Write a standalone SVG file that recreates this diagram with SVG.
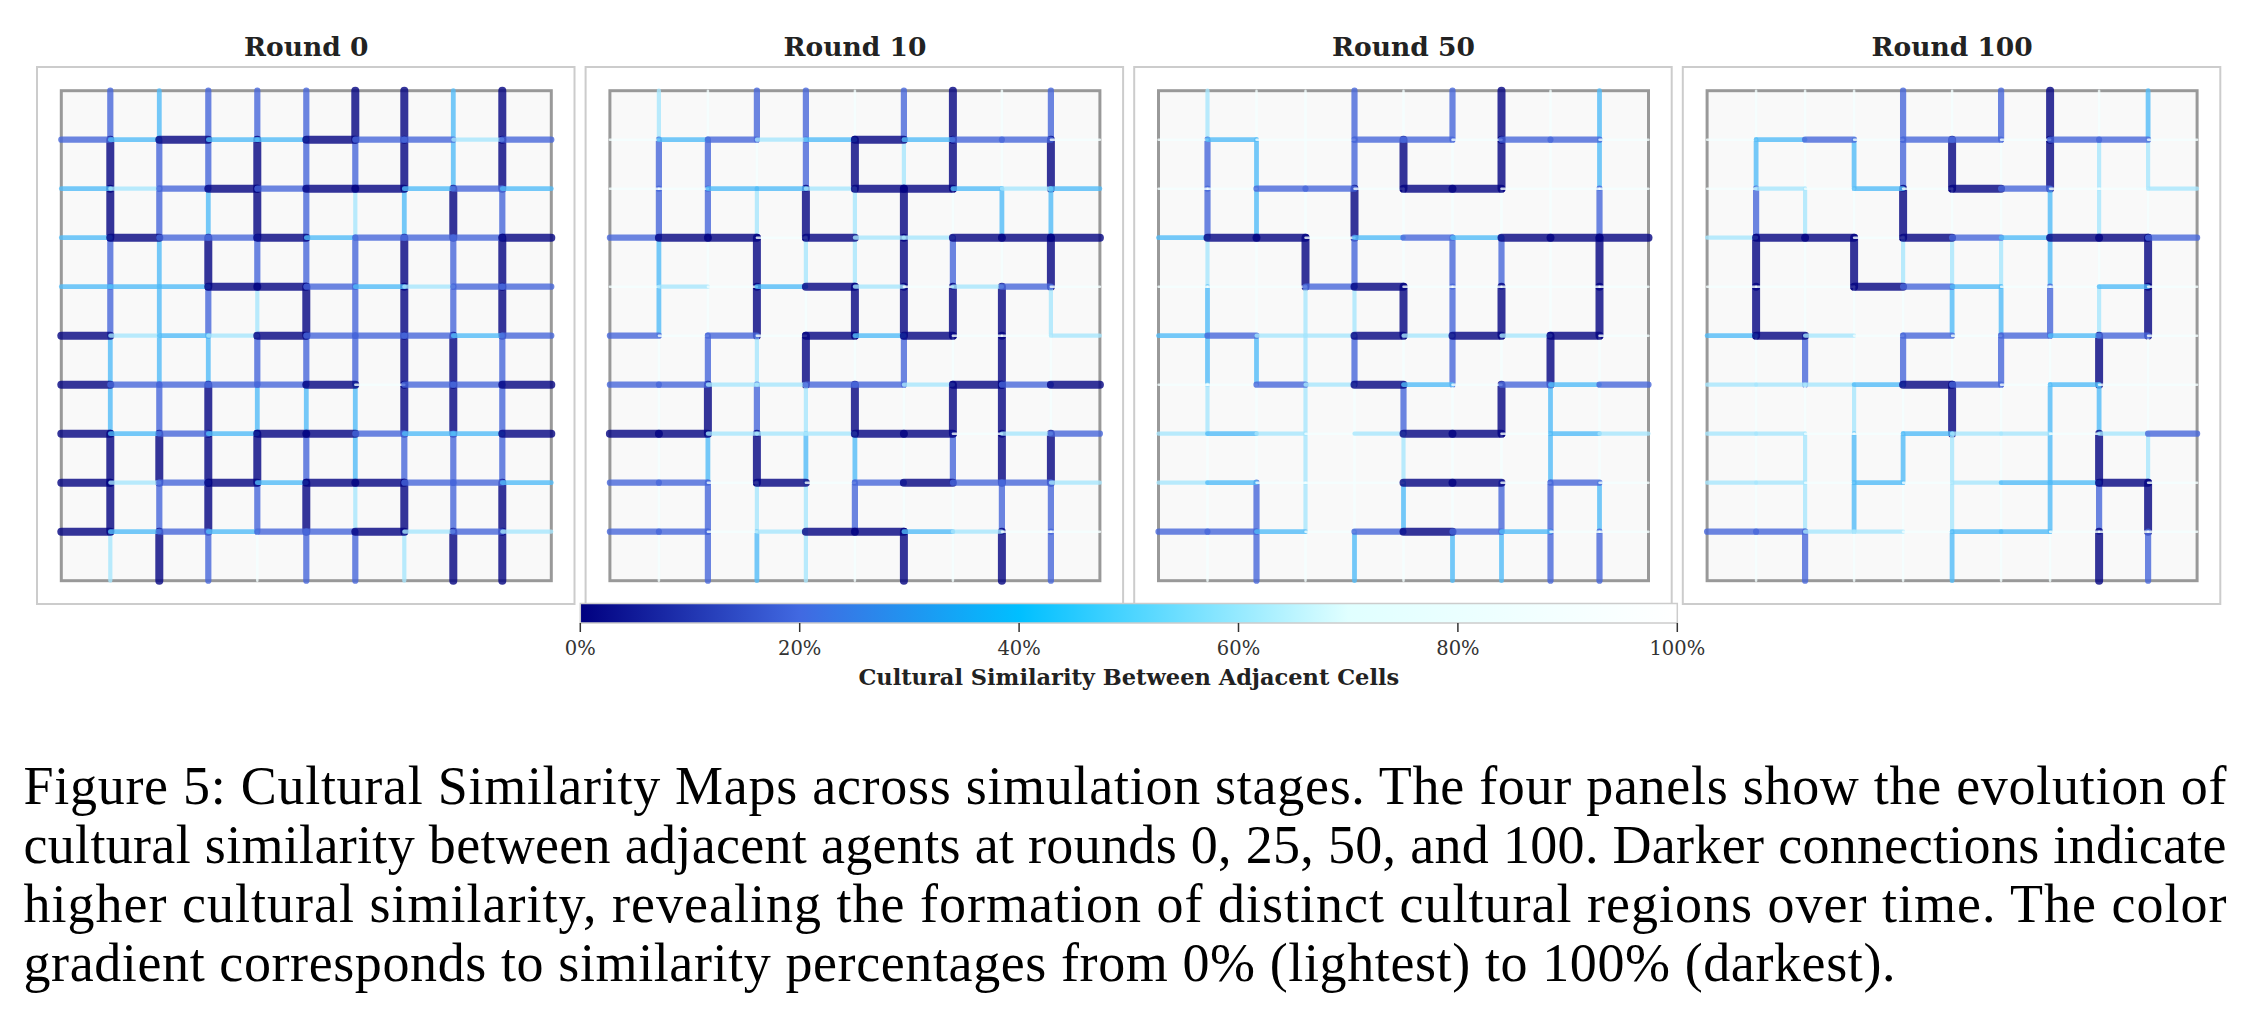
<svg xmlns="http://www.w3.org/2000/svg" width="2258" height="1018" viewBox="0 0 2258 1018">
<style>
.frame{fill:#fff;stroke:#cccccc;stroke-width:2}
.grid{fill:#f9f9f9;stroke:#999999;stroke-width:3}
.title{font-family:"DejaVu Serif",serif;font-weight:bold;font-size:26.5px;fill:#222;text-anchor:middle}
.tick{font-family:"DejaVu Serif",serif;font-size:19.5px;fill:#333;text-anchor:middle}
.axl{font-family:"DejaVu Serif",serif;font-weight:bold;font-size:22.5px;fill:#222;text-anchor:middle}
.cap{font-family:"Liberation Serif","Times New Roman",serif;font-size:54px;fill:#000}
.e path{fill:none;stroke-linecap:round;stroke-opacity:.8}
.e .d{stroke:#020281;stroke-width:8}
.e .m{stroke:#4767da;stroke-width:6.2}
.e .s{stroke:#52bcf8;stroke-width:4.8}
.e .p{stroke:#a8e6fd;stroke-width:4.2}
.e .w{stroke:#f4ffff;stroke-width:2.5}
</style>
<defs>
<linearGradient id="cb" x1="0" y1="0" x2="1" y2="0">
<stop offset="0" stop-color="#000080"/>
<stop offset="0.2" stop-color="#4169e1"/>
<stop offset="0.4" stop-color="#00bfff"/>
<stop offset="0.7" stop-color="#e0ffff"/>
<stop offset="1" stop-color="#ffffff"/>
</linearGradient>
</defs>
<rect width="2258" height="1018" fill="#fff"/>

<g id="panel-round-0">
<rect class="frame" x="37" y="67" width="537.5" height="537"/>
<text class="title" x="306.3" y="55.7">Round 0</text>
<g transform="translate(61.3,90.7)">
<rect class="grid" x="0" y="0" width="490" height="490"/>
<g class="e">
<path class="m" d="M49 0v49"/><path class="d" d="M49 49v49"/><path class="d" d="M49 98v49"/><path class="m" d="M49 147v49"/><path class="m" d="M49 196v49"/><path class="s" d="M49 245v49"/><path class="s" d="M49 294v49"/><path class="d" d="M49 343v49"/><path class="d" d="M49 392v49"/><path class="p" d="M49 441v49"/>
<path class="s" d="M98 0v49"/><path class="m" d="M98 49v49"/><path class="m" d="M98 98v49"/><path class="s" d="M98 147v49"/><path class="s" d="M98 196v49"/><path class="s" d="M98 245v49"/><path class="m" d="M98 294v49"/><path class="d" d="M98 343v49"/><path class="m" d="M98 392v49"/><path class="d" d="M98 441v49"/>
<path class="m" d="M147 0v49"/><path class="m" d="M147 49v49"/><path class="s" d="M147 98v49"/><path class="d" d="M147 147v49"/><path class="m" d="M147 196v49"/><path class="s" d="M147 245v49"/><path class="d" d="M147 294v49"/><path class="d" d="M147 343v49"/><path class="d" d="M147 392v49"/><path class="m" d="M147 441v49"/>
<path class="m" d="M196 0v49"/><path class="d" d="M196 49v49"/><path class="d" d="M196 98v49"/><path class="m" d="M196 147v49"/><path class="p" d="M196 196v49"/><path class="m" d="M196 245v49"/><path class="s" d="M196 294v49"/><path class="d" d="M196 343v49"/><path class="m" d="M196 392v49"/><path class="w" d="M196 441v49"/>
<path class="m" d="M245 0v49"/><path class="m" d="M245 49v49"/><path class="m" d="M245 98v49"/><path class="m" d="M245 147v49"/><path class="d" d="M245 196v49"/><path class="m" d="M245 245v49"/><path class="s" d="M245 294v49"/><path class="m" d="M245 343v49"/><path class="d" d="M245 392v49"/><path class="m" d="M245 441v49"/>
<path class="d" d="M294 0v49"/><path class="m" d="M294 49v49"/><path class="p" d="M294 98v49"/><path class="m" d="M294 147v49"/><path class="m" d="M294 196v49"/><path class="m" d="M294 245v49"/><path class="s" d="M294 294v49"/><path class="s" d="M294 343v49"/><path class="p" d="M294 392v49"/><path class="m" d="M294 441v49"/>
<path class="d" d="M343 0v49"/><path class="d" d="M343 49v49"/><path class="s" d="M343 98v49"/><path class="d" d="M343 147v49"/><path class="d" d="M343 196v49"/><path class="d" d="M343 245v49"/><path class="d" d="M343 294v49"/><path class="m" d="M343 343v49"/><path class="d" d="M343 392v49"/><path class="p" d="M343 441v49"/>
<path class="s" d="M392 0v49"/><path class="s" d="M392 49v49"/><path class="d" d="M392 98v49"/><path class="m" d="M392 147v49"/><path class="m" d="M392 196v49"/><path class="d" d="M392 245v49"/><path class="d" d="M392 294v49"/><path class="m" d="M392 343v49"/><path class="m" d="M392 392v49"/><path class="d" d="M392 441v49"/>
<path class="d" d="M441 0v49"/><path class="d" d="M441 49v49"/><path class="m" d="M441 98v49"/><path class="d" d="M441 147v49"/><path class="d" d="M441 196v49"/><path class="m" d="M441 245v49"/><path class="m" d="M441 294v49"/><path class="m" d="M441 343v49"/><path class="d" d="M441 392v49"/><path class="d" d="M441 441v49"/>
<path class="m" d="M0 49h49"/><path class="s" d="M49 49h49"/><path class="d" d="M98 49h49"/><path class="s" d="M147 49h49"/><path class="s" d="M196 49h49"/><path class="d" d="M245 49h49"/><path class="m" d="M294 49h49"/><path class="m" d="M343 49h49"/><path class="p" d="M392 49h49"/><path class="m" d="M441 49h49"/>
<path class="s" d="M0 98h49"/><path class="p" d="M49 98h49"/><path class="m" d="M98 98h49"/><path class="d" d="M147 98h49"/><path class="m" d="M196 98h49"/><path class="d" d="M245 98h49"/><path class="d" d="M294 98h49"/><path class="s" d="M343 98h49"/><path class="m" d="M392 98h49"/><path class="s" d="M441 98h49"/>
<path class="s" d="M0 147h49"/><path class="d" d="M49 147h49"/><path class="m" d="M98 147h49"/><path class="m" d="M147 147h49"/><path class="d" d="M196 147h49"/><path class="s" d="M245 147h49"/><path class="m" d="M294 147h49"/><path class="m" d="M343 147h49"/><path class="m" d="M392 147h49"/><path class="d" d="M441 147h49"/>
<path class="s" d="M0 196h49"/><path class="s" d="M49 196h49"/><path class="s" d="M98 196h49"/><path class="d" d="M147 196h49"/><path class="d" d="M196 196h49"/><path class="m" d="M245 196h49"/><path class="s" d="M294 196h49"/><path class="p" d="M343 196h49"/><path class="m" d="M392 196h49"/><path class="m" d="M441 196h49"/>
<path class="d" d="M0 245h49"/><path class="p" d="M49 245h49"/><path class="s" d="M98 245h49"/><path class="p" d="M147 245h49"/><path class="d" d="M196 245h49"/><path class="m" d="M245 245h49"/><path class="m" d="M294 245h49"/><path class="m" d="M343 245h49"/><path class="s" d="M392 245h49"/><path class="m" d="M441 245h49"/>
<path class="d" d="M0 294h49"/><path class="m" d="M49 294h49"/><path class="m" d="M98 294h49"/><path class="m" d="M147 294h49"/><path class="m" d="M196 294h49"/><path class="d" d="M245 294h49"/><path class="w" d="M294 294h49"/><path class="m" d="M343 294h49"/><path class="m" d="M392 294h49"/><path class="d" d="M441 294h49"/>
<path class="d" d="M0 343h49"/><path class="s" d="M49 343h49"/><path class="m" d="M98 343h49"/><path class="s" d="M147 343h49"/><path class="d" d="M196 343h49"/><path class="d" d="M245 343h49"/><path class="m" d="M294 343h49"/><path class="s" d="M343 343h49"/><path class="s" d="M392 343h49"/><path class="d" d="M441 343h49"/>
<path class="d" d="M0 392h49"/><path class="p" d="M49 392h49"/><path class="m" d="M98 392h49"/><path class="d" d="M147 392h49"/><path class="s" d="M196 392h49"/><path class="d" d="M245 392h49"/><path class="d" d="M294 392h49"/><path class="m" d="M343 392h49"/><path class="m" d="M392 392h49"/><path class="s" d="M441 392h49"/>
<path class="d" d="M0 441h49"/><path class="s" d="M49 441h49"/><path class="m" d="M98 441h49"/><path class="s" d="M147 441h49"/><path class="m" d="M196 441h49"/><path class="m" d="M245 441h49"/><path class="d" d="M294 441h49"/><path class="p" d="M343 441h49"/><path class="m" d="M392 441h49"/><path class="p" d="M441 441h49"/>
</g>
</g>
</g>

<g id="panel-round-10">
<rect class="frame" x="585.6" y="67" width="537.5" height="537"/>
<text class="title" x="854.9" y="55.7">Round 10</text>
<g transform="translate(609.9,90.7)">
<rect class="grid" x="0" y="0" width="490" height="490"/>
<g class="e">
<path class="p" d="M49 0v49"/><path class="m" d="M49 49v49"/><path class="m" d="M49 98v49"/><path class="s" d="M49 147v49"/><path class="s" d="M49 196v49"/><path class="w" d="M49 245v49"/><path class="w" d="M49 294v49"/><path class="w" d="M49 343v49"/><path class="w" d="M49 392v49"/><path class="w" d="M49 441v49"/>
<path class="w" d="M98 0v49"/><path class="m" d="M98 49v49"/><path class="m" d="M98 98v49"/><path class="w" d="M98 147v49"/><path class="w" d="M98 196v49"/><path class="m" d="M98 245v49"/><path class="d" d="M98 294v49"/><path class="s" d="M98 343v49"/><path class="m" d="M98 392v49"/><path class="m" d="M98 441v49"/>
<path class="m" d="M147 0v49"/><path class="w" d="M147 49v49"/><path class="p" d="M147 98v49"/><path class="d" d="M147 147v49"/><path class="d" d="M147 196v49"/><path class="p" d="M147 245v49"/><path class="m" d="M147 294v49"/><path class="d" d="M147 343v49"/><path class="p" d="M147 392v49"/><path class="s" d="M147 441v49"/>
<path class="m" d="M196 0v49"/><path class="m" d="M196 49v49"/><path class="d" d="M196 98v49"/><path class="p" d="M196 147v49"/><path class="w" d="M196 196v49"/><path class="d" d="M196 245v49"/><path class="p" d="M196 294v49"/><path class="s" d="M196 343v49"/><path class="p" d="M196 392v49"/><path class="p" d="M196 441v49"/>
<path class="w" d="M245 0v49"/><path class="d" d="M245 49v49"/><path class="p" d="M245 98v49"/><path class="p" d="M245 147v49"/><path class="d" d="M245 196v49"/><path class="w" d="M245 245v49"/><path class="d" d="M245 294v49"/><path class="s" d="M245 343v49"/><path class="m" d="M245 392v49"/><path class="w" d="M245 441v49"/>
<path class="m" d="M294 0v49"/><path class="p" d="M294 49v49"/><path class="d" d="M294 98v49"/><path class="d" d="M294 147v49"/><path class="d" d="M294 196v49"/><path class="m" d="M294 245v49"/><path class="w" d="M294 294v49"/><path class="w" d="M294 343v49"/><path class="w" d="M294 392v49"/><path class="d" d="M294 441v49"/>
<path class="d" d="M343 0v49"/><path class="d" d="M343 49v49"/><path class="w" d="M343 98v49"/><path class="m" d="M343 147v49"/><path class="d" d="M343 196v49"/><path class="w" d="M343 245v49"/><path class="d" d="M343 294v49"/><path class="m" d="M343 343v49"/><path class="w" d="M343 392v49"/><path class="w" d="M343 441v49"/>
<path class="w" d="M392 0v49"/><path class="w" d="M392 49v49"/><path class="s" d="M392 98v49"/><path class="w" d="M392 147v49"/><path class="d" d="M392 196v49"/><path class="d" d="M392 245v49"/><path class="d" d="M392 294v49"/><path class="d" d="M392 343v49"/><path class="m" d="M392 392v49"/><path class="d" d="M392 441v49"/>
<path class="m" d="M441 0v49"/><path class="d" d="M441 49v49"/><path class="s" d="M441 98v49"/><path class="d" d="M441 147v49"/><path class="p" d="M441 196v49"/><path class="w" d="M441 245v49"/><path class="w" d="M441 294v49"/><path class="d" d="M441 343v49"/><path class="m" d="M441 392v49"/><path class="m" d="M441 441v49"/>
<path class="w" d="M0 49h49"/><path class="s" d="M49 49h49"/><path class="m" d="M98 49h49"/><path class="p" d="M147 49h49"/><path class="s" d="M196 49h49"/><path class="d" d="M245 49h49"/><path class="s" d="M294 49h49"/><path class="m" d="M343 49h49"/><path class="m" d="M392 49h49"/><path class="w" d="M441 49h49"/>
<path class="w" d="M0 98h49"/><path class="w" d="M49 98h49"/><path class="s" d="M98 98h49"/><path class="s" d="M147 98h49"/><path class="p" d="M196 98h49"/><path class="d" d="M245 98h49"/><path class="d" d="M294 98h49"/><path class="s" d="M343 98h49"/><path class="p" d="M392 98h49"/><path class="s" d="M441 98h49"/>
<path class="m" d="M0 147h49"/><path class="d" d="M49 147h49"/><path class="d" d="M98 147h49"/><path class="w" d="M147 147h49"/><path class="d" d="M196 147h49"/><path class="p" d="M245 147h49"/><path class="p" d="M294 147h49"/><path class="d" d="M343 147h49"/><path class="d" d="M392 147h49"/><path class="d" d="M441 147h49"/>
<path class="w" d="M0 196h49"/><path class="p" d="M49 196h49"/><path class="w" d="M98 196h49"/><path class="s" d="M147 196h49"/><path class="d" d="M196 196h49"/><path class="p" d="M245 196h49"/><path class="w" d="M294 196h49"/><path class="p" d="M343 196h49"/><path class="m" d="M392 196h49"/><path class="w" d="M441 196h49"/>
<path class="m" d="M0 245h49"/><path class="w" d="M49 245h49"/><path class="m" d="M98 245h49"/><path class="w" d="M147 245h49"/><path class="d" d="M196 245h49"/><path class="s" d="M245 245h49"/><path class="d" d="M294 245h49"/><path class="w" d="M343 245h49"/><path class="w" d="M392 245h49"/><path class="p" d="M441 245h49"/>
<path class="m" d="M0 294h49"/><path class="m" d="M49 294h49"/><path class="p" d="M98 294h49"/><path class="p" d="M147 294h49"/><path class="m" d="M196 294h49"/><path class="m" d="M245 294h49"/><path class="p" d="M294 294h49"/><path class="d" d="M343 294h49"/><path class="m" d="M392 294h49"/><path class="d" d="M441 294h49"/>
<path class="d" d="M0 343h49"/><path class="d" d="M49 343h49"/><path class="p" d="M98 343h49"/><path class="p" d="M147 343h49"/><path class="p" d="M196 343h49"/><path class="d" d="M245 343h49"/><path class="d" d="M294 343h49"/><path class="w" d="M343 343h49"/><path class="p" d="M392 343h49"/><path class="m" d="M441 343h49"/>
<path class="m" d="M0 392h49"/><path class="m" d="M49 392h49"/><path class="w" d="M98 392h49"/><path class="d" d="M147 392h49"/><path class="w" d="M196 392h49"/><path class="m" d="M245 392h49"/><path class="d" d="M294 392h49"/><path class="m" d="M343 392h49"/><path class="m" d="M392 392h49"/><path class="p" d="M441 392h49"/>
<path class="m" d="M0 441h49"/><path class="m" d="M49 441h49"/><path class="w" d="M98 441h49"/><path class="p" d="M147 441h49"/><path class="d" d="M196 441h49"/><path class="d" d="M245 441h49"/><path class="s" d="M294 441h49"/><path class="p" d="M343 441h49"/><path class="w" d="M392 441h49"/><path class="w" d="M441 441h49"/>
</g>
</g>
</g>

<g id="panel-round-50">
<rect class="frame" x="1134.2" y="67" width="537.5" height="537"/>
<text class="title" x="1403.5" y="55.7">Round 50</text>
<g transform="translate(1158.5,90.7)">
<rect class="grid" x="0" y="0" width="490" height="490"/>
<g class="e">
<path class="p" d="M49 0v49"/><path class="m" d="M49 49v49"/><path class="m" d="M49 98v49"/><path class="p" d="M49 147v49"/><path class="s" d="M49 196v49"/><path class="s" d="M49 245v49"/><path class="p" d="M49 294v49"/><path class="w" d="M49 343v49"/><path class="w" d="M49 392v49"/><path class="w" d="M49 441v49"/>
<path class="w" d="M98 0v49"/><path class="s" d="M98 49v49"/><path class="s" d="M98 98v49"/><path class="w" d="M98 147v49"/><path class="w" d="M98 196v49"/><path class="s" d="M98 245v49"/><path class="w" d="M98 294v49"/><path class="w" d="M98 343v49"/><path class="m" d="M98 392v49"/><path class="m" d="M98 441v49"/>
<path class="w" d="M147 0v49"/><path class="w" d="M147 49v49"/><path class="w" d="M147 98v49"/><path class="d" d="M147 147v49"/><path class="p" d="M147 196v49"/><path class="p" d="M147 245v49"/><path class="p" d="M147 294v49"/><path class="p" d="M147 343v49"/><path class="p" d="M147 392v49"/><path class="w" d="M147 441v49"/>
<path class="m" d="M196 0v49"/><path class="m" d="M196 49v49"/><path class="d" d="M196 98v49"/><path class="m" d="M196 147v49"/><path class="p" d="M196 196v49"/><path class="m" d="M196 245v49"/><path class="w" d="M196 294v49"/><path class="w" d="M196 343v49"/><path class="w" d="M196 392v49"/><path class="s" d="M196 441v49"/>
<path class="w" d="M245 0v49"/><path class="d" d="M245 49v49"/><path class="w" d="M245 98v49"/><path class="w" d="M245 147v49"/><path class="d" d="M245 196v49"/><path class="w" d="M245 245v49"/><path class="m" d="M245 294v49"/><path class="p" d="M245 343v49"/><path class="s" d="M245 392v49"/><path class="w" d="M245 441v49"/>
<path class="m" d="M294 0v49"/><path class="w" d="M294 49v49"/><path class="w" d="M294 98v49"/><path class="m" d="M294 147v49"/><path class="m" d="M294 196v49"/><path class="m" d="M294 245v49"/><path class="w" d="M294 294v49"/><path class="w" d="M294 343v49"/><path class="w" d="M294 392v49"/><path class="s" d="M294 441v49"/>
<path class="d" d="M343 0v49"/><path class="d" d="M343 49v49"/><path class="w" d="M343 98v49"/><path class="m" d="M343 147v49"/><path class="d" d="M343 196v49"/><path class="w" d="M343 245v49"/><path class="d" d="M343 294v49"/><path class="w" d="M343 343v49"/><path class="m" d="M343 392v49"/><path class="s" d="M343 441v49"/>
<path class="w" d="M392 0v49"/><path class="w" d="M392 49v49"/><path class="w" d="M392 98v49"/><path class="w" d="M392 147v49"/><path class="w" d="M392 196v49"/><path class="d" d="M392 245v49"/><path class="s" d="M392 294v49"/><path class="s" d="M392 343v49"/><path class="m" d="M392 392v49"/><path class="m" d="M392 441v49"/>
<path class="s" d="M441 0v49"/><path class="s" d="M441 49v49"/><path class="m" d="M441 98v49"/><path class="d" d="M441 147v49"/><path class="d" d="M441 196v49"/><path class="w" d="M441 245v49"/><path class="w" d="M441 294v49"/><path class="w" d="M441 343v49"/><path class="s" d="M441 392v49"/><path class="m" d="M441 441v49"/>
<path class="w" d="M0 49h49"/><path class="s" d="M49 49h49"/><path class="w" d="M98 49h49"/><path class="w" d="M147 49h49"/><path class="m" d="M196 49h49"/><path class="m" d="M245 49h49"/><path class="w" d="M294 49h49"/><path class="m" d="M343 49h49"/><path class="m" d="M392 49h49"/><path class="w" d="M441 49h49"/>
<path class="w" d="M0 98h49"/><path class="w" d="M49 98h49"/><path class="m" d="M98 98h49"/><path class="m" d="M147 98h49"/><path class="w" d="M196 98h49"/><path class="d" d="M245 98h49"/><path class="d" d="M294 98h49"/><path class="w" d="M343 98h49"/><path class="w" d="M392 98h49"/><path class="w" d="M441 98h49"/>
<path class="s" d="M0 147h49"/><path class="d" d="M49 147h49"/><path class="d" d="M98 147h49"/><path class="w" d="M147 147h49"/><path class="s" d="M196 147h49"/><path class="m" d="M245 147h49"/><path class="s" d="M294 147h49"/><path class="d" d="M343 147h49"/><path class="d" d="M392 147h49"/><path class="d" d="M441 147h49"/>
<path class="w" d="M0 196h49"/><path class="w" d="M49 196h49"/><path class="w" d="M98 196h49"/><path class="m" d="M147 196h49"/><path class="d" d="M196 196h49"/><path class="w" d="M245 196h49"/><path class="w" d="M294 196h49"/><path class="w" d="M343 196h49"/><path class="w" d="M392 196h49"/><path class="w" d="M441 196h49"/>
<path class="s" d="M0 245h49"/><path class="m" d="M49 245h49"/><path class="p" d="M98 245h49"/><path class="p" d="M147 245h49"/><path class="d" d="M196 245h49"/><path class="p" d="M245 245h49"/><path class="d" d="M294 245h49"/><path class="p" d="M343 245h49"/><path class="d" d="M392 245h49"/><path class="w" d="M441 245h49"/>
<path class="w" d="M0 294h49"/><path class="w" d="M49 294h49"/><path class="m" d="M98 294h49"/><path class="p" d="M147 294h49"/><path class="d" d="M196 294h49"/><path class="s" d="M245 294h49"/><path class="w" d="M294 294h49"/><path class="m" d="M343 294h49"/><path class="s" d="M392 294h49"/><path class="m" d="M441 294h49"/>
<path class="p" d="M0 343h49"/><path class="s" d="M49 343h49"/><path class="p" d="M98 343h49"/><path class="w" d="M147 343h49"/><path class="p" d="M196 343h49"/><path class="d" d="M245 343h49"/><path class="d" d="M294 343h49"/><path class="w" d="M343 343h49"/><path class="s" d="M392 343h49"/><path class="p" d="M441 343h49"/>
<path class="p" d="M0 392h49"/><path class="s" d="M49 392h49"/><path class="w" d="M98 392h49"/><path class="w" d="M147 392h49"/><path class="w" d="M196 392h49"/><path class="d" d="M245 392h49"/><path class="d" d="M294 392h49"/><path class="w" d="M343 392h49"/><path class="m" d="M392 392h49"/><path class="w" d="M441 392h49"/>
<path class="m" d="M0 441h49"/><path class="m" d="M49 441h49"/><path class="s" d="M98 441h49"/><path class="w" d="M147 441h49"/><path class="m" d="M196 441h49"/><path class="d" d="M245 441h49"/><path class="m" d="M294 441h49"/><path class="s" d="M343 441h49"/><path class="w" d="M392 441h49"/><path class="w" d="M441 441h49"/>
</g>
</g>
</g>

<g id="panel-round-100">
<rect class="frame" x="1682.8" y="67" width="537.5" height="537"/>
<text class="title" x="1952.1" y="55.7">Round 100</text>
<g transform="translate(1707.1,90.7)">
<rect class="grid" x="0" y="0" width="490" height="490"/>
<g class="e">
<path class="w" d="M49 0v49"/><path class="s" d="M49 49v49"/><path class="m" d="M49 98v49"/><path class="d" d="M49 147v49"/><path class="d" d="M49 196v49"/><path class="w" d="M49 245v49"/><path class="w" d="M49 294v49"/><path class="w" d="M49 343v49"/><path class="w" d="M49 392v49"/><path class="w" d="M49 441v49"/>
<path class="w" d="M98 0v49"/><path class="w" d="M98 49v49"/><path class="p" d="M98 98v49"/><path class="w" d="M98 147v49"/><path class="w" d="M98 196v49"/><path class="m" d="M98 245v49"/><path class="w" d="M98 294v49"/><path class="p" d="M98 343v49"/><path class="p" d="M98 392v49"/><path class="m" d="M98 441v49"/>
<path class="w" d="M147 0v49"/><path class="s" d="M147 49v49"/><path class="w" d="M147 98v49"/><path class="d" d="M147 147v49"/><path class="w" d="M147 196v49"/><path class="w" d="M147 245v49"/><path class="p" d="M147 294v49"/><path class="s" d="M147 343v49"/><path class="s" d="M147 392v49"/><path class="w" d="M147 441v49"/>
<path class="m" d="M196 0v49"/><path class="m" d="M196 49v49"/><path class="d" d="M196 98v49"/><path class="p" d="M196 147v49"/><path class="w" d="M196 196v49"/><path class="m" d="M196 245v49"/><path class="w" d="M196 294v49"/><path class="s" d="M196 343v49"/><path class="w" d="M196 392v49"/><path class="w" d="M196 441v49"/>
<path class="w" d="M245 0v49"/><path class="d" d="M245 49v49"/><path class="w" d="M245 98v49"/><path class="p" d="M245 147v49"/><path class="s" d="M245 196v49"/><path class="w" d="M245 245v49"/><path class="d" d="M245 294v49"/><path class="p" d="M245 343v49"/><path class="p" d="M245 392v49"/><path class="s" d="M245 441v49"/>
<path class="m" d="M294 0v49"/><path class="w" d="M294 49v49"/><path class="w" d="M294 98v49"/><path class="p" d="M294 147v49"/><path class="s" d="M294 196v49"/><path class="m" d="M294 245v49"/><path class="w" d="M294 294v49"/><path class="w" d="M294 343v49"/><path class="w" d="M294 392v49"/><path class="w" d="M294 441v49"/>
<path class="d" d="M343 0v49"/><path class="d" d="M343 49v49"/><path class="s" d="M343 98v49"/><path class="s" d="M343 147v49"/><path class="m" d="M343 196v49"/><path class="w" d="M343 245v49"/><path class="s" d="M343 294v49"/><path class="s" d="M343 343v49"/><path class="s" d="M343 392v49"/><path class="w" d="M343 441v49"/>
<path class="w" d="M392 0v49"/><path class="p" d="M392 49v49"/><path class="p" d="M392 98v49"/><path class="w" d="M392 147v49"/><path class="p" d="M392 196v49"/><path class="d" d="M392 245v49"/><path class="s" d="M392 294v49"/><path class="d" d="M392 343v49"/><path class="m" d="M392 392v49"/><path class="d" d="M392 441v49"/>
<path class="s" d="M441 0v49"/><path class="p" d="M441 49v49"/><path class="w" d="M441 98v49"/><path class="d" d="M441 147v49"/><path class="d" d="M441 196v49"/><path class="w" d="M441 245v49"/><path class="w" d="M441 294v49"/><path class="p" d="M441 343v49"/><path class="d" d="M441 392v49"/><path class="m" d="M441 441v49"/>
<path class="w" d="M0 49h49"/><path class="s" d="M49 49h49"/><path class="m" d="M98 49h49"/><path class="w" d="M147 49h49"/><path class="m" d="M196 49h49"/><path class="m" d="M245 49h49"/><path class="w" d="M294 49h49"/><path class="m" d="M343 49h49"/><path class="m" d="M392 49h49"/><path class="w" d="M441 49h49"/>
<path class="w" d="M0 98h49"/><path class="p" d="M49 98h49"/><path class="w" d="M98 98h49"/><path class="s" d="M147 98h49"/><path class="w" d="M196 98h49"/><path class="d" d="M245 98h49"/><path class="m" d="M294 98h49"/><path class="w" d="M343 98h49"/><path class="w" d="M392 98h49"/><path class="p" d="M441 98h49"/>
<path class="p" d="M0 147h49"/><path class="d" d="M49 147h49"/><path class="d" d="M98 147h49"/><path class="w" d="M147 147h49"/><path class="d" d="M196 147h49"/><path class="m" d="M245 147h49"/><path class="s" d="M294 147h49"/><path class="d" d="M343 147h49"/><path class="d" d="M392 147h49"/><path class="m" d="M441 147h49"/>
<path class="w" d="M0 196h49"/><path class="w" d="M49 196h49"/><path class="w" d="M98 196h49"/><path class="d" d="M147 196h49"/><path class="m" d="M196 196h49"/><path class="s" d="M245 196h49"/><path class="w" d="M294 196h49"/><path class="w" d="M343 196h49"/><path class="s" d="M392 196h49"/><path class="w" d="M441 196h49"/>
<path class="s" d="M0 245h49"/><path class="d" d="M49 245h49"/><path class="p" d="M98 245h49"/><path class="w" d="M147 245h49"/><path class="m" d="M196 245h49"/><path class="w" d="M245 245h49"/><path class="m" d="M294 245h49"/><path class="s" d="M343 245h49"/><path class="m" d="M392 245h49"/><path class="w" d="M441 245h49"/>
<path class="p" d="M0 294h49"/><path class="p" d="M49 294h49"/><path class="p" d="M98 294h49"/><path class="s" d="M147 294h49"/><path class="d" d="M196 294h49"/><path class="m" d="M245 294h49"/><path class="w" d="M294 294h49"/><path class="s" d="M343 294h49"/><path class="w" d="M392 294h49"/><path class="w" d="M441 294h49"/>
<path class="p" d="M0 343h49"/><path class="p" d="M49 343h49"/><path class="w" d="M98 343h49"/><path class="w" d="M147 343h49"/><path class="s" d="M196 343h49"/><path class="p" d="M245 343h49"/><path class="p" d="M294 343h49"/><path class="w" d="M343 343h49"/><path class="p" d="M392 343h49"/><path class="m" d="M441 343h49"/>
<path class="p" d="M0 392h49"/><path class="p" d="M49 392h49"/><path class="w" d="M98 392h49"/><path class="s" d="M147 392h49"/><path class="w" d="M196 392h49"/><path class="p" d="M245 392h49"/><path class="s" d="M294 392h49"/><path class="s" d="M343 392h49"/><path class="d" d="M392 392h49"/><path class="w" d="M441 392h49"/>
<path class="m" d="M0 441h49"/><path class="m" d="M49 441h49"/><path class="p" d="M98 441h49"/><path class="p" d="M147 441h49"/><path class="w" d="M196 441h49"/><path class="s" d="M245 441h49"/><path class="s" d="M294 441h49"/><path class="w" d="M343 441h49"/><path class="w" d="M392 441h49"/><path class="w" d="M441 441h49"/>
</g>
</g>
</g>

<g id="colorbar">
<rect x="580.3" y="603.5" width="1097" height="19.5" fill="url(#cb)" stroke="#cccccc" stroke-width="1.5"/>
<g stroke="#333" stroke-width="1.5">
<line x1="580.3" y1="623" x2="580.3" y2="632"/>
<line x1="799.7" y1="623" x2="799.7" y2="632"/>
<line x1="1019.1" y1="623" x2="1019.1" y2="632"/>
<line x1="1238.5" y1="623" x2="1238.5" y2="632"/>
<line x1="1457.9" y1="623" x2="1457.9" y2="632"/>
<line x1="1677.3" y1="623" x2="1677.3" y2="632"/>
</g>
<text class="tick" x="580.3" y="655">0%</text>
<text class="tick" x="799.7" y="655">20%</text>
<text class="tick" x="1019.1" y="655">40%</text>
<text class="tick" x="1238.5" y="655">60%</text>
<text class="tick" x="1457.9" y="655">80%</text>
<text class="tick" x="1677.3" y="655">100%</text>
<text class="axl" x="1128.8" y="684.5">Cultural Similarity Between Adjacent Cells</text>
</g>

<g id="caption">
<text class="cap" x="23.5" y="804" textLength="2203">Figure 5: Cultural Similarity Maps across simulation stages. The four panels show the evolution of</text>
<text class="cap" x="23.5" y="863" textLength="2203">cultural similarity between adjacent agents at rounds 0, 25, 50, and 100. Darker connections indicate</text>
<text class="cap" x="23.5" y="922" textLength="2203">higher cultural similarity, revealing the formation of distinct cultural regions over time. The color</text>
<text class="cap" x="23.5" y="981" textLength="1872">gradient corresponds to similarity percentages from 0% (lightest) to 100% (darkest).</text>
</g>
</svg>
